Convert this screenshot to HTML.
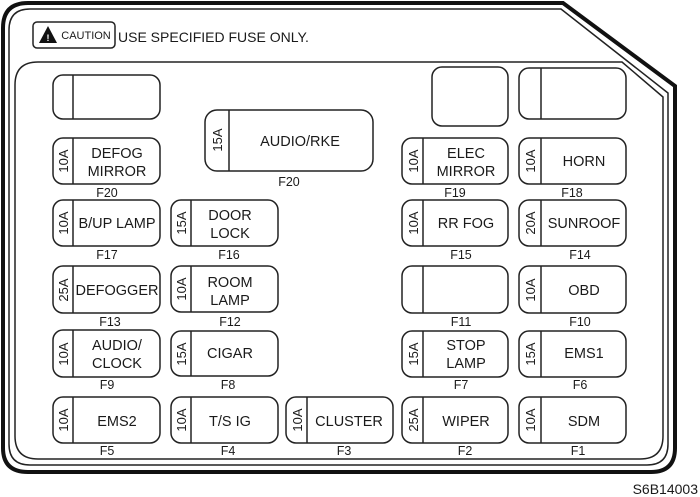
<!DOCTYPE html>
<html><head><meta charset="utf-8"><style>
html,body{margin:0;padding:0;background:#fff;}
svg{display:block;font-family:"Liberation Sans",Arial,sans-serif;}
.f{fill:none;stroke:#222;stroke-width:1.5;}
.t{font-size:14.5px;fill:#1a1a1a;text-anchor:middle;}
.a{font-size:13px;fill:#1a1a1a;text-anchor:middle;}
.l{font-size:12.5px;fill:#1a1a1a;text-anchor:middle;}
</style></head><body>
<svg width="700" height="497" viewBox="0 0 700 497">
<path d="M3,28 Q3,3 28,3 L563,3 L675,86 L675,448 Q675,472 651,472 L28,472 Q3,472 3,448 Z" fill="none" stroke="#111" stroke-width="4"/>
<path d="M9,30 Q9,9 30,9 L561,9 L668,93 L668,444 Q668,465 647,465 L30,465 Q9,465 9,444 Z" fill="none" stroke="#222" stroke-width="1.5"/>
<path d="M15,85 Q15,62 38,62 L622,62 L663,97 L663,436 Q663,459 640,459 L38,459 Q15,459 15,436 Z" fill="none" stroke="#222" stroke-width="1.5"/>
<rect x="33" y="22" width="82" height="26" rx="4" fill="none" stroke="#222" stroke-width="1.5"/>
<path d="M48,26 L57,43 L39,43 Z" fill="#111"/>
<text x="48" y="41" font-size="9" fill="#fff" text-anchor="middle" font-weight="bold">!</text>
<text x="86" y="39" font-size="11" fill="#1a1a1a" text-anchor="middle">CAUTION</text>
<text x="118" y="42" font-size="14" fill="#1a1a1a">USE SPECIFIED FUSE ONLY.</text>
<rect class="f" x="53" y="75" width="107" height="44" rx="10"/><line class="f" x1="73" y1="75" x2="73" y2="119"/>
<rect class="f" x="432" y="67" width="76" height="59" rx="10"/>
<rect class="f" x="519" y="68" width="107" height="51" rx="10"/><line class="f" x1="541" y1="68" x2="541" y2="119"/>
<rect class="f" x="205" y="110" width="168" height="61" rx="12"/><line class="f" x1="229" y1="110" x2="229" y2="171"/>
<text class="a" transform="translate(222,140) rotate(-90)">15A</text>
<text class="t" x="300" y="146">AUDIO/RKE</text>
<text class="l" x="289" y="186">F20</text>

<rect class="f" x="53" y="138" width="107" height="46" rx="10"/><line class="f" x1="73" y1="138" x2="73" y2="184"/>
<text class="a" transform="translate(68,161) rotate(-90)">10A</text>
<text class="t" x="117" y="158">DEFOG</text><text class="t" x="117" y="176">MIRROR</text><text class="l" x="107" y="197">F20</text>
<rect class="f" x="402" y="138" width="106" height="46" rx="10"/><line class="f" x1="423" y1="138" x2="423" y2="184"/>
<text class="a" transform="translate(418,161) rotate(-90)">10A</text>
<text class="t" x="466" y="158">ELEC</text><text class="t" x="466" y="176">MIRROR</text><text class="l" x="455" y="197">F19</text>
<rect class="f" x="519" y="138" width="107" height="46" rx="10"/><line class="f" x1="541" y1="138" x2="541" y2="184"/>
<text class="a" transform="translate(535,161) rotate(-90)">10A</text>
<text class="t" x="584" y="166">HORN</text><text class="l" x="572" y="197">F18</text>

<rect class="f" x="53" y="200" width="107" height="46" rx="10"/><line class="f" x1="73" y1="200" x2="73" y2="246"/>
<text class="a" transform="translate(68,223) rotate(-90)">10A</text>
<text class="t" x="117" y="228">B/UP LAMP</text><text class="l" x="107" y="259">F17</text>
<rect class="f" x="171" y="200" width="107" height="46" rx="10"/><line class="f" x1="191" y1="200" x2="191" y2="246"/>
<text class="a" transform="translate(186,223) rotate(-90)">15A</text>
<text class="t" x="230" y="220">DOOR</text><text class="t" x="230" y="238">LOCK</text><text class="l" x="229" y="259">F16</text>
<rect class="f" x="402" y="200" width="106" height="46" rx="10"/><line class="f" x1="423" y1="200" x2="423" y2="246"/>
<text class="a" transform="translate(418,223) rotate(-90)">10A</text>
<text class="t" x="466" y="228">RR FOG</text><text class="l" x="461" y="259">F15</text>
<rect class="f" x="519" y="200" width="107" height="46" rx="10"/><line class="f" x1="541" y1="200" x2="541" y2="246"/>
<text class="a" transform="translate(535,223) rotate(-90)">20A</text>
<text class="t" x="584" y="228">SUNROOF</text><text class="l" x="580" y="259">F14</text>

<rect class="f" x="53" y="266" width="107" height="47" rx="10"/><line class="f" x1="73" y1="266" x2="73" y2="313"/>
<text class="a" transform="translate(68,290) rotate(-90)">25A</text>
<text class="t" x="117" y="295">DEFOGGER</text><text class="l" x="110" y="326">F13</text>
<rect class="f" x="171" y="266" width="107" height="46" rx="10"/><line class="f" x1="191" y1="266" x2="191" y2="312"/>
<text class="a" transform="translate(186,289) rotate(-90)">10A</text>
<text class="t" x="230" y="287">ROOM</text><text class="t" x="230" y="305">LAMP</text><text class="l" x="230" y="326">F12</text>
<rect class="f" x="402" y="266" width="106" height="47" rx="10"/><line class="f" x1="423" y1="266" x2="423" y2="313"/>
<text class="l" x="461" y="326">F11</text>
<rect class="f" x="519" y="266" width="107" height="47" rx="10"/><line class="f" x1="541" y1="266" x2="541" y2="313"/>
<text class="a" transform="translate(535,290) rotate(-90)">10A</text>
<text class="t" x="584" y="295">OBD</text><text class="l" x="580" y="326">F10</text>

<rect class="f" x="53" y="330" width="107" height="47" rx="10"/><line class="f" x1="73" y1="330" x2="73" y2="377"/>
<text class="a" transform="translate(68,354) rotate(-90)">10A</text>
<text class="t" x="117" y="350">AUDIO/</text><text class="t" x="117" y="368">CLOCK</text><text class="l" x="107" y="389">F9</text>
<rect class="f" x="171" y="331" width="107" height="45" rx="10"/><line class="f" x1="191" y1="331" x2="191" y2="376"/>
<text class="a" transform="translate(186,354) rotate(-90)">15A</text>
<text class="t" x="230" y="358">CIGAR</text><text class="l" x="228" y="389">F8</text>
<rect class="f" x="402" y="331" width="106" height="46" rx="10"/><line class="f" x1="423" y1="331" x2="423" y2="377"/>
<text class="a" transform="translate(418,354) rotate(-90)">15A</text>
<text class="t" x="466" y="350">STOP</text><text class="t" x="466" y="368">LAMP</text><text class="l" x="461" y="389">F7</text>
<rect class="f" x="519" y="331" width="107" height="46" rx="10"/><line class="f" x1="541" y1="331" x2="541" y2="377"/>
<text class="a" transform="translate(535,354) rotate(-90)">15A</text>
<text class="t" x="584" y="358">EMS1</text><text class="l" x="580" y="389">F6</text>

<rect class="f" x="53" y="397" width="107" height="46" rx="10"/><line class="f" x1="73" y1="397" x2="73" y2="443"/>
<text class="a" transform="translate(68,420) rotate(-90)">10A</text>
<text class="t" x="117" y="426">EMS2</text><text class="l" x="107" y="455">F5</text>
<rect class="f" x="171" y="397" width="107" height="46" rx="10"/><line class="f" x1="191" y1="397" x2="191" y2="443"/>
<text class="a" transform="translate(186,420) rotate(-90)">10A</text>
<text class="t" x="230" y="426">T/S IG</text><text class="l" x="228" y="455">F4</text>
<rect class="f" x="286" y="397" width="107" height="46" rx="10"/><line class="f" x1="307" y1="397" x2="307" y2="443"/>
<text class="a" transform="translate(302,420) rotate(-90)">10A</text>
<text class="t" x="349" y="426">CLUSTER</text><text class="l" x="344" y="455">F3</text>
<rect class="f" x="402" y="397" width="106" height="46" rx="10"/><line class="f" x1="423" y1="397" x2="423" y2="443"/>
<text class="a" transform="translate(418,420) rotate(-90)">25A</text>
<text class="t" x="466" y="426">WIPER</text><text class="l" x="465" y="455">F2</text>
<rect class="f" x="519" y="397" width="107" height="46" rx="10"/><line class="f" x1="541" y1="397" x2="541" y2="443"/>
<text class="a" transform="translate(535,420) rotate(-90)">10A</text>
<text class="t" x="584" y="426">SDM</text><text class="l" x="578" y="455">F1</text>
<text x="698" y="494" font-size="14" fill="#1a1a1a" text-anchor="end">S6B14003</text>
</svg>
</body></html>
